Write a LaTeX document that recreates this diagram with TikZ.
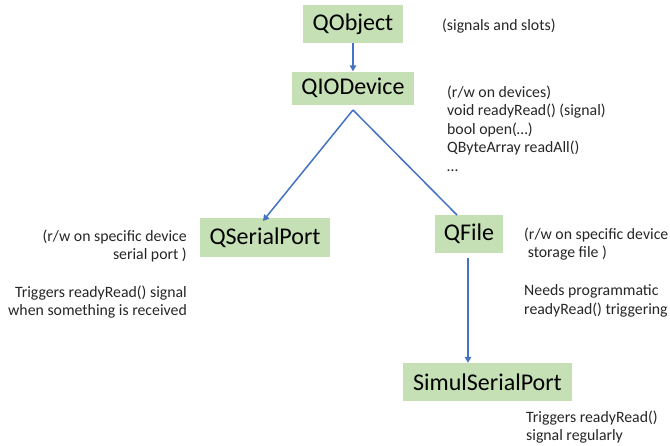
\documentclass[tikz,border=0pt]{standalone}
\usepackage{fontspec}
\setmainfont{Carlito}
\usetikzlibrary{arrows.meta}
\definecolor{boxgreen}{HTML}{C5E0B4}
\definecolor{linkblue}{HTML}{4472C4}
\begin{document}
\begin{tikzpicture}[x=1pt,y=-1pt,
  classbox/.style={fill=boxgreen, draw=none, inner sep=0pt, minimum height=38pt,
    font=\fontsize{24}{28}\selectfont, text=black},
  note/.style={inner sep=0pt, font=\fontsize{15.8}{18.5}\selectfont, text=black!85},
  inherit/.style={draw=linkblue, line width=1.5pt, -{Triangle[length=6pt,width=6.5pt]}},
  plainlink/.style={draw=linkblue, line width=1.5pt}]
\useasboundingbox (0,0) rectangle (670,445);
\fill[white] (0,0) rectangle (670,445);

% class boxes
\node[classbox, minimum width=100pt] (qobject) at (353,24) {QObject};
\node[classbox, minimum width=122pt, minimum height=33pt] (qiodevice) at (353,88) {QIODevice};
\node[classbox, minimum width=130pt, minimum height=39pt] (qserial) at (265,237.5) {QSerialPort};
\node[classbox, minimum width=68pt] (qfile) at (469,234) {QFile};
\node[classbox, minimum width=169pt] (simul) at (487.5,382) {SimulSerialPort};

% hierarchy links
\coordinate (apex) at (353,110);
\draw[inherit] (qobject.south) -- (qiodevice.north);
\draw[inherit] (apex) -- (263,221);
\draw[plainlink] (apex) -- (457,215);
\coordinate (fileout) at (468,258);
\draw[inherit] (fileout) -- (simul.north -| fileout);

% notes
\node[note, anchor=base west] (n1) at (442,30) {(signals and slots)};

\node[note, anchor=base west] (d1) at (447,97) {(r/w on devices)};
\node[note, anchor=base west] (d2) at (447,115.5) {void readyRead() (signal)};
\node[note, anchor=base west] (d3) at (447,134) {bool open(…)};
\node[note, anchor=base west] (d4) at (447,152.5) {QByteArray readAll()};
\node[note, anchor=base west] (d5) at (447,171) {…};

\node[note, anchor=base east] (s1) at (187,241) {(r/w on specific device};
\node[note, anchor=base east] (s2) at (187,259.5) {serial port )};
\node[note, anchor=base east] (s3) at (187,297) {Triggers readyRead() signal};
\node[note, anchor=base east] (s4) at (187,315.5) {when something is received};

\node[note, anchor=base west] (f1) at (524,239) {(r/w on specific device};
\node[note, anchor=base west] (f2) at (524,257.5) {\ storage file )};
\node[note, anchor=base west] (f3) at (524,295.5) {Needs programmatic};
\node[note, anchor=base west] (f4) at (524,314) {readyRead() triggering};

\node[note, anchor=base west] (p1) at (526,422) {Triggers readyRead()};
\node[note, anchor=base west] (p2) at (526,440.5) {signal regularly};
\end{tikzpicture}
\end{document}
